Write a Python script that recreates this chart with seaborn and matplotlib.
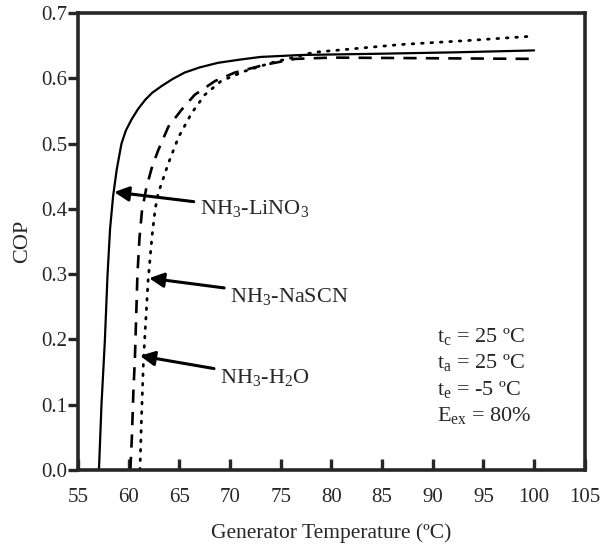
import numpy as np
import pandas as pd
import matplotlib
matplotlib.use("Agg")
import matplotlib.pyplot as plt
import seaborn as sns

# curve readings (generator temperature in C, COP)
lino3_t = [57.05, 57.3, 57.63, 57.9, 58.15, 58.45, 58.8, 59.27, 59.7, 60.26, 60.9, 61.6, 62.3, 63.2, 64.3,
           65.5, 67.0, 68.8, 71.0, 73.0, 77.0, 85.0, 92.0, 100.0]
lino3_cop = [0.0, 0.10, 0.197, 0.30, 0.37, 0.42, 0.46, 0.50, 0.52, 0.537, 0.553, 0.567, 0.578, 0.588, 0.599,
             0.609, 0.617, 0.624, 0.629, 0.633, 0.636, 0.638, 0.640, 0.643]

h2o_t = [60.15, 60.3, 60.45, 60.6, 60.85, 61.05, 61.3, 61.75, 62.3, 62.9, 63.9, 65.2, 66.5, 68.5, 70.45,
         73.4, 76.4, 80.0, 90.0, 100.0]
h2o_cop = [0.0, 0.05, 0.12, 0.172, 0.30, 0.355, 0.398, 0.434, 0.465, 0.49, 0.526, 0.552, 0.575, 0.596, 0.609,
           0.621, 0.630, 0.632, 0.631, 0.630]

nascn_t = [61.1, 61.25, 61.45, 61.9, 62.3, 62.6, 62.9, 63.9, 64.9, 66.2, 67.5, 69.1, 71.4, 74.05, 76.7,
           78.2, 86.8, 93.3, 100.0]
nascn_cop = [0.0, 0.08, 0.17, 0.29, 0.36, 0.40, 0.424, 0.47, 0.51, 0.547, 0.575, 0.596, 0.611, 0.624, 0.634,
             0.640, 0.652, 0.658, 0.665]

x_ticks = [55, 60, 65, 70, 75, 80, 85, 90, 95, 100, 105]
y_ticks = [0.0, 0.1, 0.2, 0.3, 0.4, 0.5, 0.6, 0.7]

sns.set_style("ticks")
plt.rcParams['font.family'] = ['Liberation Serif', 'DejaVu Serif']
plt.rcParams['mathtext.fontset'] = 'custom'
plt.rcParams['mathtext.rm'] = 'Liberation Serif'
plt.rcParams['mathtext.it'] = 'Liberation Serif:italic'

fig, ax = plt.subplots(figsize=(6.06, 5.51), dpi=100)
fig.subplots_adjust(left=0.129, right=0.965, top=0.976, bottom=0.147)

sns.lineplot(x=lino3_t, y=lino3_cop, ax=ax, color='black', linewidth=1.6, sort=False)
sns.lineplot(x=h2o_t, y=h2o_cop, ax=ax, color='black', linewidth=1.9, linestyle=(0, (5, 3.5)), sort=False)
sns.lineplot(x=nascn_t, y=nascn_cop, ax=ax, color='black', linewidth=2.0, linestyle=(0, (0.6, 2.8)),
             dash_capstyle='round', sort=False)

ax.set_xlim(55, 105)
ax.set_ylim(0, 0.7)
ax.set_xticks(x_ticks)
ax.set_yticks(y_ticks)
ax.set_yticklabels([f"{v:.1f}" for v in y_ticks])
ax.tick_params(axis='x', direction='in', length=8, width=2.4, labelsize=15, pad=13)
ax.tick_params(axis='y', direction='out', length=7, width=2.4, labelsize=15, pad=1)
for s in ax.spines.values():
    s.set_linewidth(2.6)
    s.set_visible(True)

ax.set_xlabel("Generator Temperature (ºC)", fontsize=15.5, labelpad=12)
ax.set_ylabel("COP", fontsize=16, labelpad=6)

arrow = dict(arrowstyle='-|>', color='black', lw=2.2, mutation_scale=22, shrinkA=2, shrinkB=0)
ax.annotate(r"NH$_3$-LiNO$_3$", xy=(58.55, 0.426), xytext=(67.0, 0.400),
            fontsize=16, va='center', ha='left', arrowprops=arrow)
ax.annotate(r"NH$_3$-NaSCN", xy=(62.0, 0.294), xytext=(70.0, 0.266),
            fontsize=16, va='center', ha='left', arrowprops=arrow)
ax.annotate(r"NH$_3$-H$_2$O", xy=(61.1, 0.175), xytext=(69.0, 0.142),
            fontsize=16, va='center', ha='left', arrowprops=arrow)

conds = [r"t$_\mathrm{c}$ = 25 ºC", r"t$_\mathrm{a}$ = 25 ºC", r"t$_\mathrm{e}$ = -5 ºC", r"E$_\mathrm{ex}$ = 80%"]
for i, c in enumerate(conds):
    ax.text(90.4, 0.205 - i * 0.0406, c, fontsize=16, va='center', ha='left')

fig.savefig("out.png", dpi=100)
